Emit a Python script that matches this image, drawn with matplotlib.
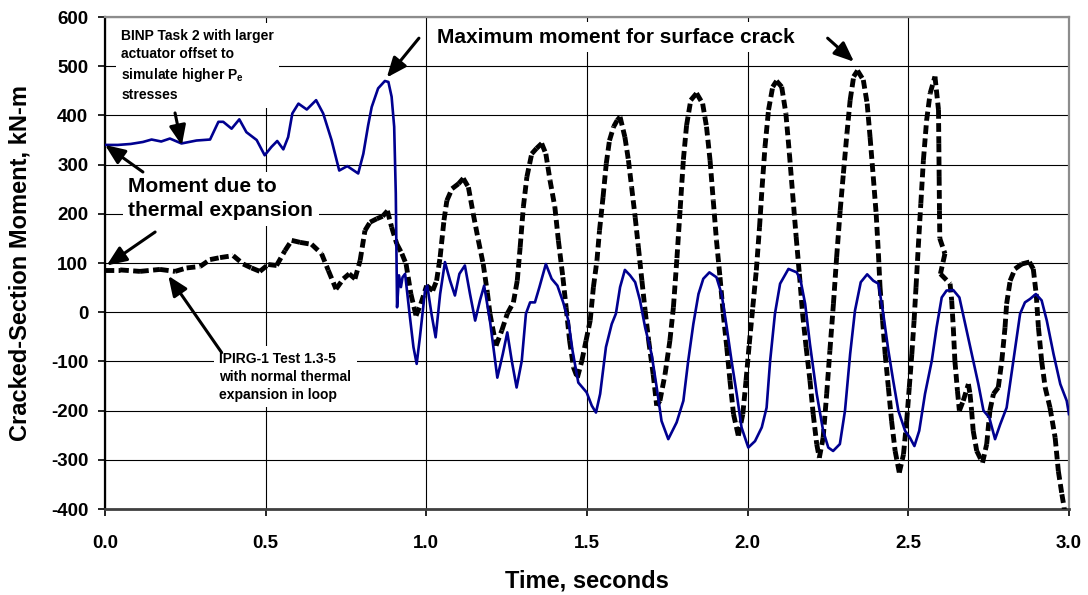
import numpy as np
import matplotlib
matplotlib.use("Agg")
import matplotlib.pyplot as plt
from matplotlib.collections import LineCollection

plt.rcParams['font.family'] = ['Liberation Sans', 'DejaVu Sans']
plt.rcParams['font.weight'] = 'bold'
plt.rcParams['axes.unicode_minus'] = False
plt.rcParams['mathtext.fontset'] = 'custom'
plt.rcParams['mathtext.rm'] = 'Liberation Sans:bold'
plt.rcParams['mathtext.bf'] = 'Liberation Sans:bold'
plt.rcParams['mathtext.it'] = 'Liberation Sans:bold'

# BINP Task 2 (solid blue)
binp_t = [0.0, 0.04, 0.08, 0.118, 0.145, 0.175, 0.202, 0.238, 0.285, 0.327,
          0.353, 0.368, 0.394, 0.418, 0.44, 0.472, 0.497, 0.518, 0.536, 0.555,
          0.57, 0.583, 0.602, 0.628, 0.657, 0.679, 0.705, 0.729, 0.754, 0.788,
          0.804, 0.819, 0.83, 0.85, 0.871, 0.882, 0.892, 0.9, 0.905, 0.909,
          0.915, 0.921, 0.926, 0.934, 0.949, 0.96, 0.97, 0.98, 0.996, 1.003,
          1.016, 1.029, 1.043, 1.058, 1.074, 1.089, 1.103, 1.12, 1.136, 1.152,
          1.167, 1.18, 1.198, 1.221, 1.238, 1.252, 1.266, 1.281, 1.297, 1.31,
          1.323, 1.338, 1.352, 1.372, 1.39, 1.408, 1.426, 1.442, 1.455, 1.473,
          1.499, 1.515, 1.528, 1.541, 1.559, 1.577, 1.59, 1.603, 1.618, 1.634,
          1.65, 1.665, 1.681, 1.701, 1.717, 1.732, 1.753, 1.779, 1.8, 1.815,
          1.831, 1.847, 1.862, 1.881, 1.903, 1.919, 1.935, 1.95, 1.966, 1.981,
          2.002, 2.023, 2.044, 2.059, 2.07, 2.085, 2.101, 2.127, 2.153, 2.165,
          2.179, 2.194, 2.215, 2.235, 2.251, 2.266, 2.287, 2.303, 2.319, 2.334,
          2.352, 2.372, 2.391, 2.407, 2.422, 2.438, 2.453, 2.469, 2.49, 2.505,
          2.519, 2.534, 2.552, 2.573, 2.588, 2.604, 2.619, 2.64, 2.659, 2.677,
          2.697, 2.718, 2.734, 2.752, 2.77, 2.786, 2.806, 2.827, 2.848, 2.863,
          2.879, 2.897, 2.915, 2.931, 2.952, 2.973, 2.993, 3.0]
binp_m = [340, 340, 342, 346, 351, 347, 353, 343, 349, 351,
          387, 387, 373, 392, 366, 350, 319, 336, 348, 331,
          356, 404, 424, 412, 431, 404, 350, 288, 297, 282,
          322, 380, 417, 455, 470, 468, 438, 377, 241, 10,
          75, 51, 71, 78, -10, -71, -105, -51, 44, 54,
          -3, -51, 37, 102, 64, 34, 78, 95, 37, -17,
          24, 54, -17, -133, -85, -41, -99, -153, -99, -3,
          20, 20, 51, 98, 68, 54, 20, -17, -78, -143,
          -163, -190, -204, -166, -71, -24, -3, 51, 86, 75,
          61, 24, -31, -85, -153, -221, -258, -224, -180, -99,
          -24, 37, 68, 81, 71, 37, -31, -99, -166, -234,
          -275, -262, -234, -194, -99, -3, 58, 88, 81, 64,
          17, -65, -166, -241, -275, -282, -268, -200, -85, 3,
          61, 77, 64, 58, -3, -78, -139, -200, -241, -255,
          -272, -241, -166, -99, -31, 30, 44, 45, 30, -24,
          -85, -146, -200, -214, -258, -228, -194, -99, -3, 20,
          27, 37, 24, -17, -85, -146, -180, -207]

# IPIRG-1 Test 1.3-5 (thick black dashed)
ipirg_t = [0.0, 0.047, 0.109, 0.171, 0.218, 0.254, 0.296, 0.327, 0.358, 0.399,
           0.43, 0.456, 0.482, 0.508, 0.534, 0.56, 0.581, 0.607, 0.643, 0.674,
           0.695, 0.719, 0.742, 0.76, 0.778, 0.794, 0.809, 0.825, 0.846, 0.864,
           0.879, 0.892, 0.908, 0.924, 0.937, 0.952, 0.968, 0.983, 1.001, 1.02,
           1.032, 1.043, 1.055, 1.064, 1.08, 1.1, 1.115, 1.131, 1.146, 1.162,
           1.177, 1.19, 1.198, 1.217, 1.235, 1.252, 1.271, 1.283, 1.292, 1.302,
           1.313, 1.328, 1.343, 1.359, 1.372, 1.385, 1.4, 1.411, 1.425, 1.435,
           1.446, 1.458, 1.47, 1.484, 1.497, 1.51, 1.52, 1.531, 1.539, 1.55,
           1.56, 1.57, 1.583, 1.594, 1.603, 1.618, 1.629, 1.639, 1.65, 1.66,
           1.671, 1.681, 1.692, 1.706, 1.717, 1.727, 1.743, 1.758, 1.769, 1.78,
           1.79, 1.8, 1.81, 1.823, 1.841, 1.86, 1.872, 1.883, 1.893, 1.903,
           1.914, 1.924, 1.935, 1.945, 1.956, 1.971, 1.985, 1.995, 2.005, 2.016,
           2.027, 2.037, 2.045, 2.054, 2.065, 2.078, 2.09, 2.106, 2.119, 2.13,
           2.14, 2.151, 2.161, 2.171, 2.182, 2.194, 2.204, 2.215, 2.223, 2.235,
           2.246, 2.256, 2.267, 2.277, 2.288, 2.298, 2.309, 2.319, 2.33, 2.342,
           2.36, 2.372, 2.381, 2.391, 2.4, 2.407, 2.412, 2.42, 2.428, 2.438,
           2.448, 2.459, 2.472, 2.485, 2.495, 2.503, 2.511, 2.518, 2.524, 2.531,
           2.539, 2.547, 2.557, 2.568, 2.583, 2.594, 2.595, 2.596, 2.597, 2.598,
           2.614, 2.6, 2.63, 2.635, 2.64, 2.645, 2.653, 2.659, 2.671, 2.687,
           2.692, 2.697, 2.702, 2.713, 2.731, 2.744, 2.754, 2.765, 2.78, 2.791,
           2.801, 2.806, 2.817, 2.832, 2.853, 2.877, 2.889, 2.898, 2.905, 2.915,
           2.926, 2.941, 2.957, 2.967, 2.978, 2.985, 2.99]
ipirg_m = [86, 86, 83, 87, 83, 90, 93, 107, 111, 115,
           98, 90, 83, 97, 95, 125, 146, 142, 138, 119,
           85, 47, 68, 78, 68, 105, 166, 183, 190, 195,
           206, 173, 139, 119, 98, 37, -7, 17, 54, 44,
           64, 112, 187, 227, 251, 261, 272, 254, 200, 146,
           98, 40, -3, -68, -37, -3, 20, 64, 132, 214,
           275, 322, 333, 343, 322, 268, 214, 146, 71, 10,
           -58, -112, -133, -99, -58, -17, 51, 105, 166, 234,
           302, 349, 377, 390, 397, 356, 309, 254, 193, 132,
           64, 3, -58, -126, -190, -180, -126, -58, 10, 110,
           210, 310, 380, 431, 445, 424, 377, 309, 227, 146,
           71, -3, -71, -139, -207, -251, -207, -139, -65, 10,
           85, 173, 254, 336, 411, 458, 470, 458, 404, 322,
           241, 153, 78, -3, -71, -139, -207, -268, -296, -255,
           -166, -78, 17, 112, 207, 282, 363, 431, 479, 491,
           472, 424, 356, 275, 200, 119, 51, -17, -85, -153,
           -221, -282, -326, -289, -221, -153, -85, -17, 51, 132,
           221, 309, 390, 445, 479, 411, 343, 275, 207, 150,
           119, 78, 58, 24, -31, -99, -160, -200, -180, -146,
           -166, -200, -241, -282, -306, -268, -200, -166, -153, -99,
           -31, 17, 64, 88, 98, 102, 88, 37, -31, -99,
           -153, -194, -255, -323, -370, -397, -430]

x_ticks = [0.0, 0.5, 1.0, 1.5, 2.0, 2.5, 3.0]
y_ticks = [-400, -300, -200, -100, 0, 100, 200, 300, 400, 500, 600]

fig = plt.figure(figsize=(10.88, 5.95), dpi=100)
ax = fig.add_axes([0.0965, 0.1445, 0.886, 0.8269])

ax.set_xlim(0, 3.0)
ax.set_ylim(-400, 600)
ax.set_xticks(x_ticks)
ax.set_xticklabels([f"{v:.1f}" for v in x_ticks])
ax.set_yticks(y_ticks)
ax.grid(True, color='black', linewidth=0.8, zorder=0)
ax.set_axisbelow(True)
ax.tick_params(axis='both', direction='out', length=5, width=1.2, labelsize=13.5)
ax.tick_params(axis='y', pad=7)
ax.tick_params(axis='x', pad=14)

for side in ['top', 'right']:
    ax.spines[side].set_color('#8c8c8c')
    ax.spines[side].set_linewidth(1.6)
ax.spines['left'].set_linewidth(1.6)
ax.spines['bottom'].set_color('#404040')
ax.spines['bottom'].set_linewidth(2.0)

# black dashed series: each segment dashed separately (Excel style)
pts = np.column_stack([ipirg_t, ipirg_m])
segs = np.stack([pts[:-1], pts[1:]], axis=1)
lc = LineCollection(segs, colors='black', linewidths=3.5,
                    linestyles=[(0, (1.8, 0.9))], capstyle='butt', zorder=4)
ax.add_collection(lc)

ax.plot(binp_t, binp_m, color='#000090', linewidth=1.9, zorder=5)

ax.set_xlabel('Time, seconds', fontsize=17, fontweight='bold')
ax.set_ylabel('Cracked-Section Moment, kN-m', fontsize=17, fontweight='bold')
ax.xaxis.set_label_coords(0.5, -0.122)
ax.yaxis.set_label_coords(-0.076, 0.5)

box = dict(facecolor='white', edgecolor='none', pad=4)
ax.text(0.05, 576, 'BINP Task 2 with larger\nactuator offset to\nsimulate higher P$_\\mathrm{e}$\nstresses',
        fontsize=10, fontweight='bold', va='top', ha='left', linespacing=1.38, bbox=box, zorder=3)
ax.text(0.072, 274, 'Moment due to\nthermal expansion', fontsize=15, fontweight='bold',
        va='top', ha='left', linespacing=1.3, bbox=box, zorder=3)
ax.text(0.355, -80, 'IPIRG-1 Test 1.3-5\nwith normal thermal\nexpansion in loop',
        fontsize=10, fontweight='bold', va='top', ha='left', linespacing=1.38, bbox=box, zorder=3)
ax.text(1.033, 578, 'Maximum moment for surface crack', fontsize=15, fontweight='bold',
        va='top', ha='left', bbox=box, zorder=3)

arrow = dict(arrowstyle='-|>,head_length=1.2,head_width=0.5', color='black',
             linewidth=2.2, shrinkA=0, shrinkB=0, mutation_scale=10)
arrow_pairs = [((0.218, 405), (0.239, 339)),
               ((0.118, 285), (0.0, 340)),
               ((0.156, 163), (0.005, 95)),
               ((0.363, -82), (0.197, 74)),
               ((0.977, 557), (0.877, 477)),
               ((2.249, 557), (2.331, 509))]
for tail, tip in arrow_pairs:
    ax.annotate('', xy=tip, xytext=tail, arrowprops=arrow, zorder=6)

fig.savefig('out.png', dpi=100)
